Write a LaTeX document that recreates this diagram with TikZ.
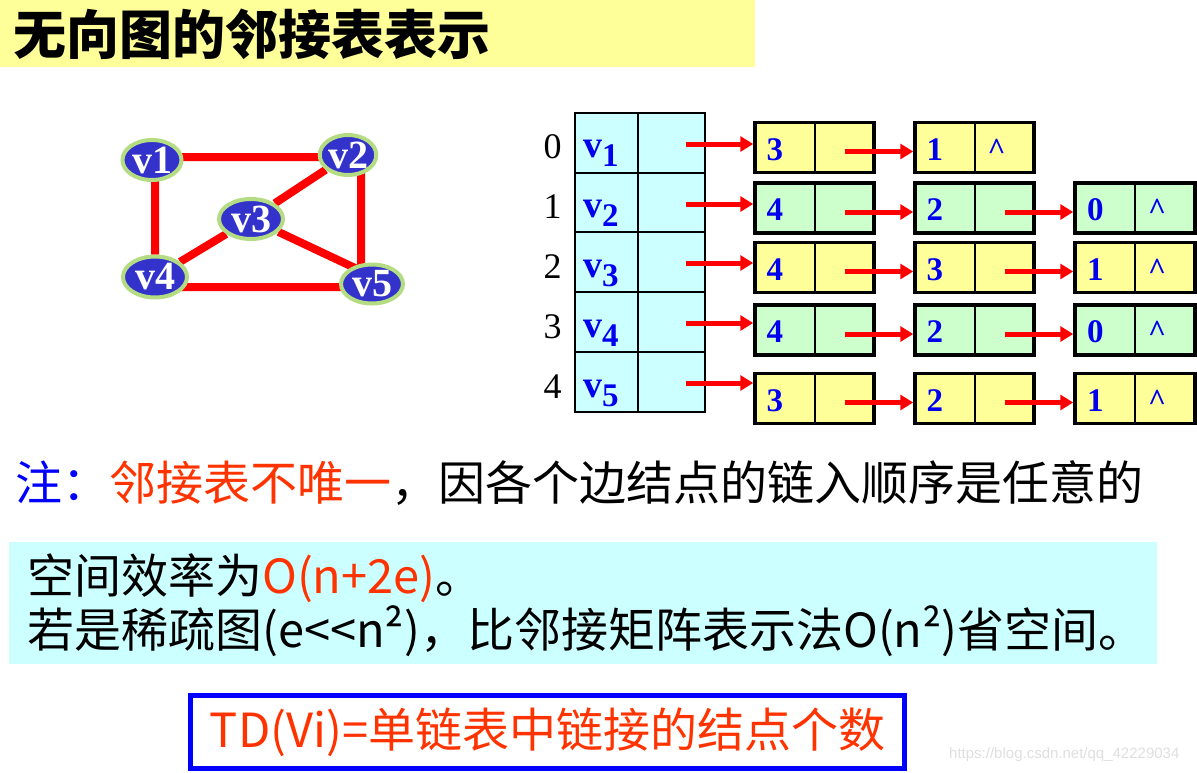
\documentclass[tikz,border=0pt]{standalone}
\usepackage{fontspec}
\setmainfont{Liberation Serif}
\newfontfamily\cjk{Noto Sans CJK SC}
\newfontfamily\wmfont{Liberation Sans}
\usetikzlibrary{shapes.geometric,arrows.meta,calc,backgrounds}
\definecolor{titlebg}{HTML}{FFFF99}
\definecolor{headc}{HTML}{CCFFFF}
\definecolor{lyel}{HTML}{FFFF99}
\definecolor{lgrn}{HTML}{CCFFCC}
\definecolor{vfill}{HTML}{3333CC}
\definecolor{vring}{HTML}{B4DC82}
\definecolor{hot}{HTML}{FF3300}
\definecolor{ink}{HTML}{0000EE}
\newcommand\lcell[2]{\makebox[44pt][l]{#1}\makebox[52pt]{#2}}
\newcommand\nullmark{\raisebox{1pt}{\fontsize{31}{31}\selectfont\textasciicircum}}
\newcommand\vsub[1]{v\raisebox{-9pt}{\fontsize{33}{33}\selectfont #1}}
\begin{document}
\begin{tikzpicture}[x=1pt,y=-1pt,
  vert/.style={ellipse,draw=vring,line width=4pt,fill=vfill,text=white,inner sep=0pt,
    font=\fontsize{40}{40}\selectfont\bfseries},
  edge/.style={red,line width=8pt},
  hcell/.style={draw,line width=1.5pt,fill=headc,minimum height=60pt,inner sep=0pt},
  lnode/.style={draw,line width=3.5pt,fill=#1,minimum width=119pt,minimum height=50pt,inner sep=0pt,
    text height=25pt,text depth=0pt,text=ink,font=\fontsize{33}{33}\selectfont\bfseries,
    path picture={\draw[draw=black,line width=2pt] (path picture bounding box.north) -- (path picture bounding box.south);}},
  ptr/.style={red,line width=5pt,-{Triangle[length=13pt,width=15pt]}},
  idx/.style={anchor=base,inner sep=0pt,font=\fontsize{36}{36}\selectfont},
  vname/.style={anchor=base west,inner sep=0pt,text=ink,font=\fontsize{38}{38}\selectfont\bfseries},
  cjktxt/.style={anchor=base west,inner sep=0pt,font=\cjk\fontsize{47}{47}\selectfont}]
\useasboundingbox (0,0) rectangle (1197,772);
% title bar
\fill[titlebg] (0,0) rectangle (755,67);
\node[anchor=base west,inner sep=0pt,font=\cjk\bfseries\fontsize{53}{53}\selectfont] (title) at (13,54) {无向图的邻接表表示};
% graph
\node[vert,minimum width=59pt,minimum height=40pt] (v1) at (152,160) {v1};
\node[vert,minimum width=56pt,minimum height=40pt] (v2) at (348,155) {v2};
\node[vert,minimum width=64pt,minimum height=40pt] (v3) at (251,219) {v3};
\node[vert,minimum width=64pt,minimum height=41pt] (v4) at (155,277) {v4};
\node[vert,minimum width=62pt,minimum height=39pt] (v5) at (372,284) {v5};
\begin{scope}[on background layer]
\draw[edge] ($(v1)+(0,-3)$) -- ($(v2)+(0,2)$) ($(v1)+(3,0)$) -- (v4)
  ($(v2)+(13,0)$) -- ($(v5)+(-11,0)$) ($(v4)+(0,10)$) -- ($(v5)+(0,3)$)
  (v3) -- (v2) (v3) -- (v4) (v3) -- ($(v5)+(0,-8)$);
\end{scope}
% head table
\node[hcell,minimum width=63pt] (h0a) at (606.5,143) {};
\node[hcell,minimum width=67pt] (h0b) at (671.5,143) {};
\node[hcell,minimum width=63pt] (h1a) at (606.5,203) {};
\node[hcell,minimum width=67pt] (h1b) at (671.5,203) {};
\node[hcell,minimum width=63pt] (h2a) at (606.5,262) {};
\node[hcell,minimum width=67pt] (h2b) at (671.5,262) {};
\node[hcell,minimum width=63pt] (h3a) at (606.5,322) {};
\node[hcell,minimum width=67pt] (h3b) at (671.5,322) {};
\node[hcell,minimum width=63pt] (h4a) at (606.5,382) {};
\node[hcell,minimum width=67pt] (h4b) at (671.5,382) {};
\node[idx] (i0) at (552.5,158) {0};
\node[idx] (i1) at (552.5,218) {1};
\node[idx] (i2) at (552.5,278) {2};
\node[idx] (i3) at (552.5,338) {3};
\node[idx] (i4) at (552.5,398) {4};
\node[vname] (t0) at (583,157) {\vsub{1}};
\node[vname] (t1) at (583,217) {\vsub{2}};
\node[vname] (t2) at (583,277) {\vsub{3}};
\node[vname] (t3) at (583,337) {\vsub{4}};
\node[vname] (t4) at (583,397) {\vsub{5}};
% edge lists
\node[lnode=lyel] (n00) at (814.5,147.5) {\lcell{3}{}};
\node[lnode=lyel] (n01) at (974.5,147.5) {\lcell{1}{\nullmark}};
\node[lnode=lgrn] (n10) at (814.5,208) {\lcell{4}{}};
\node[lnode=lgrn] (n11) at (974.5,208) {\lcell{2}{}};
\node[lnode=lgrn,minimum width=120pt] (n12) at (1135,208) {\lcell{0}{\nullmark}};
\node[lnode=lyel] (n20) at (814.5,267.5) {\lcell{4}{}};
\node[lnode=lyel] (n21) at (974.5,267.5) {\lcell{3}{}};
\node[lnode=lyel,minimum width=120pt] (n22) at (1135,267.5) {\lcell{1}{\nullmark}};
\node[lnode=lgrn] (n30) at (814.5,330) {\lcell{4}{}};
\node[lnode=lgrn] (n31) at (974.5,330) {\lcell{2}{}};
\node[lnode=lgrn,minimum width=120pt] (n32) at (1135,330) {\lcell{0}{\nullmark}};
\node[lnode=lyel] (n40) at (814.5,398.5) {\lcell{3}{}};
\node[lnode=lyel] (n41) at (974.5,398.5) {\lcell{2}{}};
\node[lnode=lyel,minimum width=120pt] (n42) at (1135,398.5) {\lcell{1}{\nullmark}};
% pointers
\coordinate (s0) at ($(h0b)+(14,1)$);
\coordinate (s1) at ($(h1b)+(14,1)$);
\coordinate (s2) at ($(h2b)+(14,1)$);
\coordinate (s3) at ($(h3b)+(14,1)$);
\coordinate (s4) at ($(h4b)+(14,1)$);
\draw[ptr] (s0) -- (s0 -| n00.west);
\draw[ptr] (s1) -- (s1 -| n10.west);
\draw[ptr] (s2) -- (s2 -| n20.west);
\draw[ptr] (s3) -- (s3 -| n30.west);
\draw[ptr] (s4) -- (s4 -| n40.west);
\draw[ptr] ($(n00)+(30,4)$) -- ($(n01.west)+(0,4)$);
\draw[ptr] ($(n10)+(30,4)$) -- ($(n11.west)+(0,4)$);
\draw[ptr] ($(n20)+(30,4)$) -- ($(n21.west)+(0,4)$);
\draw[ptr] ($(n30)+(30,4)$) -- ($(n31.west)+(0,4)$);
\draw[ptr] ($(n40)+(30,4)$) -- ($(n41.west)+(0,4)$);
\draw[ptr] ($(n11)+(30,4)$) -- ($(n12.west)+(0,4)$);
\draw[ptr] ($(n21)+(30,4)$) -- ($(n22.west)+(0,4)$);
\draw[ptr] ($(n31)+(30,4)$) -- ($(n32.west)+(0,4)$);
\draw[ptr] ($(n41)+(30,4)$) -- ($(n42.west)+(0,4)$);
% notes
\node[cjktxt] (note) at (15,500) {\textcolor{blue}{注：}\textcolor{hot}{邻接表不唯一}，因各个边结点的链入顺序是任意的};
\fill[headc] (9,542) rectangle (1157,664);
\node[cjktxt] (eff1) at (27,593) {空间效率为\textcolor{hot}{O(n+2e)}。};
\node[cjktxt] (eff2) at (27,647) {若是稀疏图(e<<n²)，比邻接矩阵表示法O(n²)省空间。};
\node[draw=blue,line width=5pt,minimum width=714pt,minimum height=73pt,inner sep=0pt,text=hot,
  font=\cjk\fontsize{47}{47}\selectfont] (td) at (547.5,732) {TD(Vi)=单链表中链接的结点个数};
\node[anchor=base west,inner sep=0pt,text=gray!25,font=\wmfont\fontsize{15}{15}\selectfont] (wm) at (949,758) {https://blog.csdn.net/qq\_42229034};
\end{tikzpicture}
\end{document}
